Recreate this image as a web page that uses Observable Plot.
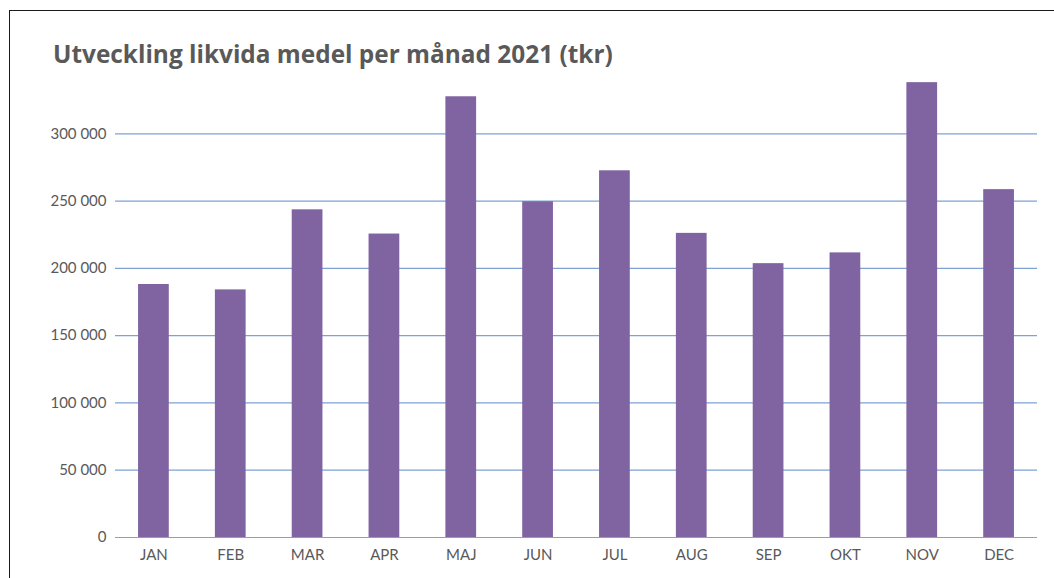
<!DOCTYPE html>
<html><head><meta charset="utf-8">
<script src="https://cdn.jsdelivr.net/npm/d3@7"></script>
<script src="https://cdn.jsdelivr.net/npm/@observablehq/plot@0.6"></script>
<style>
html,body{margin:0;padding:0;background:#fff;overflow:hidden;width:1054px;height:578px}
#frame{position:absolute;left:9px;top:10px;width:2000px;height:2000px;border:1.5px solid #1a1a1a;box-sizing:border-box}
#title{position:absolute;left:53px;top:41.6px;font-family:"Open Sans";font-weight:bold;font-size:24.4px;color:#595959;white-space:nowrap;line-height:1}
#chart{position:absolute;left:0;top:0}
</style></head><body>
<div id="frame"></div>
<div id="chart"></div>
<div id="title">Utveckling likvida medel per månad 2021 (tkr)</div>
<script>
const months = ["JAN","FEB","MAR","APR","MAJ","JUN","JUL","AUG","SEP","OKT","NOV","DEC"];
const values = [188000,184000,243500,225500,327500,249500,272500,226000,203500,211500,338000,258500];
const yTicks = [0,50000,100000,150000,200000,250000,300000];

const fmt = d3.formatLocale({thousands:" ", grouping:[3], decimal:","}).format(",");
const data = months.map((m,i)=>({month:m, value:values[i]}));

const chart = Plot.plot({
  width:1054, height:578,
  marginLeft:115, marginRight:17, marginTop:66, marginBottom:41,
  style:{fontFamily:"Lato", fontSize:"15px", color:"#595959", background:"transparent", overflow:"visible"},
  x:{domain:months, paddingInner:0.6, paddingOuter:0.3, round:false, label:null},
  y:{domain:[0,350000], label:null},
  marks:[
    Plot.ruleY(yTicks, {stroke:"#7ea2d4", strokeWidth:1.2}),
    Plot.barY(data, {x:"month", y:"value", fill:"#8064a2"}),
    Plot.axisY({ticks:yTicks, tickSize:0, tickPadding:9, tickFormat:fmt, label:null, fontSize:15}),
    Plot.axisX({tickSize:0, tickPadding:12, label:null, fontSize:15})
  ]
});
document.getElementById("chart").appendChild(chart);
</script>
</body></html>
